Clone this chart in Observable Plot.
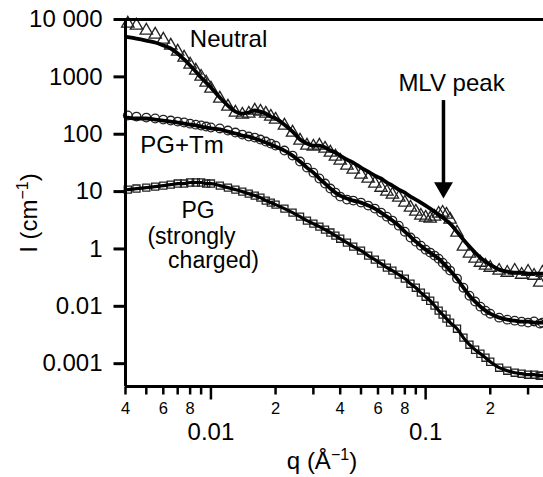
<!DOCTYPE html>
<html><head><meta charset="utf-8">
<script src="https://cdn.jsdelivr.net/npm/d3@7"></script>
<script src="https://cdn.jsdelivr.net/npm/@observablehq/plot@0.6"></script>
<style>body{margin:0;background:#fff} svg{display:block}</style>
</head><body><div id="chart"></div>
<script>
// q values (Å^-1)
const q = [0.0041,0.0045,0.005,0.0055,0.006,0.0065,0.007,0.0075,0.008,0.0085,
  0.009,0.0095,0.010,0.011,0.012,0.013,0.014,0.015,0.016,0.017,
  0.018,0.019,0.020,0.022,0.024,0.026,0.028,0.030,0.032,0.034,
  0.036,0.038,0.040,0.043,0.046,0.050,0.054,0.058,0.062,0.066,
  0.070,0.075,0.080,0.085,0.090,0.095,0.100,0.105,0.110,0.115,
  0.120,0.125,0.130,0.140,0.150,0.160,0.170,0.180,0.190,0.200,
  0.220,0.240,0.260,0.280,0.300,0.320,0.340,0.350];

// Neutral (triangles) data and fit
const neutralI = [8510,7860,6430,5480,4480,3520,2770,2170,1640,1290,
  1010,796,626,419,304,239,220,229,259,248,
  229,203,180,142,107,77.5,63.4,60.9,63.4,56.2,
  47.9,40.8,34.7,28.4,24.2,19.8,16.9,13.8,11.7,9.99,
  8.86,7.86,6.43,5.26,4.48,3.81,3.52,3.38,3.66,4.13,
  4.30,3.97,3.25,1.93,1.10,0.829,0.678,0.577,0.512,0.472,
  0.419,0.386,0.419,0.356,0.402,0.342,0.259,0.386];
const neutralFit = [4950,4660,4300,3970,3520,3120,2550,2010,1580,1240,
  973,796,651,436,316,248,229,239,259,248,
  229,203,188,147,111,80.7,68.7,63.4,63.4,58.5,
  51.9,47.9,42.4,36.1,32.0,26.2,22.3,19.0,16.9,14.4,
  12.7,10.8,9.60,8.18,7.25,6.43,5.70,5.05,4.48,3.97,
  3.52,3.12,2.76,2.00,1.45,1.10,0.863,0.706,0.601,0.533,
  0.436,0.402,0.386,0.386,0.371,0.371,0.371,0.371];

// PG+Tm (circles) data and fit
const pgTmI = [212,203,195,188,180,173,166,160,153,147,
  142,136,131,126,116,107,98.6,91.0,87.4,80.7,
  74.5,68.7,63.4,51.9,42.4,33.4,26.2,21.4,16.9,13.8,
  11.3,9.60,8.18,7.25,6.96,6.43,5.70,5.05,4.30,3.66,
  3.12,2.55,2.00,1.58,1.34,1.14,0.973,0.863,0.765,0.678,
  0.577,0.491,0.419,0.304,0.211,0.153,0.121,0.0986,0.0840,0.0744,
  0.0634,0.0585,0.0562,0.0540,0.0520,0.0545,0.0500,0.0519];
const pgTmFit = [195,188,188,180,173,166,160,153,147,142,
  136,131,126,121,111,103,94.8,91.0,84.0,77.5,
  71.5,66.0,60.9,51.9,42.4,33.4,26.2,21.4,16.9,13.8,
  11.3,9.60,8.51,7.55,6.96,6.43,5.70,5.05,4.30,3.66,
  3.12,2.55,2.00,1.64,1.34,1.14,0.973,0.863,0.765,0.678,
  0.577,0.491,0.419,0.304,0.211,0.153,0.121,0.0986,0.0840,0.0744,
  0.0634,0.0585,0.0562,0.0540,0.0540,0.0519,0.0519,0.0519];

// PG strongly charged (squares) data, fit follows the same points
const pgI = [10.8,11.3,11.7,12.2,12.7,13.2,13.8,13.8,14.4,14.4,
  14.4,13.8,13.8,12.7,11.7,10.8,9.99,9.22,8.51,7.86,
  6.96,6.43,5.93,5.05,4.30,3.66,3.12,2.76,2.45,2.17,
  1.93,1.71,1.51,1.29,1.10,0.935,0.765,0.651,0.554,0.472,
  0.419,0.356,0.304,0.248,0.211,0.173,0.147,0.125,0.103,0.0840,
  0.0715,0.0609,0.0519,0.0407,0.0284,0.0214,0.0175,0.0149,0.0127,0.0108,
  0.00851,0.00754,0.00696,0.00669,0.00642,0.00642,0.00617,0.00617];

// Axis ticks and labels
const yTicks = [10000, 1000, 100, 10, 1, 0.1, 0.01];
const yTickLabels = ["10 000", "1000", "100", "10", "1", "0.01", "0.001"];
const xMinorTicks = [0.004,0.005,0.006,0.007,0.008,0.009,0.02,0.03,0.04,0.05,0.06,0.07,0.08,0.09,0.2,0.3];
const xMinorLabels = ["4","","6","","8","","2","","4","","6","","8","","2",""];
const xMajorTicks = [0.01, 0.1];
const xMajorLabels = ["0.01", "0.1"];

const xMin = 0.004, xMax = 0.354, yMin = 0.004, yMax = 10000;
const rows = (arr) => q.map((qq, i) => ({q: qq, I: arr[i]}));
const lab = (ticks, labels) => (d) => labels[ticks.indexOf(d)] ?? "";
// tick-mark symbols (line segments drawn from the anchor point)
const tickDown = (len) => ({draw(ctx) { ctx.moveTo(0, 0); ctx.lineTo(0, len); }});
const tickLeft = (len) => ({draw(ctx) { ctx.moveTo(0, 0); ctx.lineTo(-len, 0); }});

const font = "'Liberation Sans', Arial, Helvetica, sans-serif";
const mk = {stroke: "#222", strokeWidth: 1.3, fill: "none"};
const chart = Plot.plot({
  width: 543, height: 477,
  marginLeft: 125, marginRight: 0, marginTop: 19, marginBottom: 91,
  x: {type: "log", domain: [xMin, xMax], axis: null},
  y: {type: "log", domain: [yMin, yMax], axis: null},
  style: {fontFamily: font, background: "#fff", color: "#000"},
  marks: [
    Plot.dot(rows(neutralI), {x: "q", y: "I", symbol: "triangle", r: 4.6, ...mk}),
    Plot.dot(rows(pgTmI), {x: "q", y: "I", symbol: "circle", r: 4.3, ...mk}),
    Plot.dot(rows(pgI), {x: "q", y: "I", symbol: "square", r: 4, ...mk}),
    Plot.line(rows(neutralFit), {x: "q", y: "I", stroke: "#000", strokeWidth: 3.8, curve: "monotone-x"}),
    Plot.line(rows(pgTmFit), {x: "q", y: "I", stroke: "#000", strokeWidth: 3.8, curve: "monotone-x"}),
    Plot.line(rows(pgI), {x: "q", y: "I", stroke: "#000", strokeWidth: 3.2, curve: "monotone-x"}),
    // frame lines
    Plot.ruleX([xMin], {stroke: "#000", strokeWidth: 3}),
    Plot.ruleY([yMin, yMax], {stroke: "#000", strokeWidth: 3}),
    // y ticks + labels
    Plot.dot(yTicks, {x: xMin, y: (d) => d, symbol: tickLeft(12), stroke: "#000", strokeWidth: 3, fill: "none"}),
    Plot.text(yTicks, {x: xMin, y: (d) => d, text: lab(yTicks, yTickLabels), textAnchor: "end", dx: -23, lineAnchor: "middle", fontSize: 24, fill: "#000"}),
    // x ticks + labels
    Plot.dot(xMinorTicks, {x: (d) => d, y: yMin, symbol: tickDown(8), stroke: "#000", strokeWidth: 2.5, fill: "none"}),
    Plot.dot(xMajorTicks, {x: (d) => d, y: yMin, symbol: tickDown(13), stroke: "#000", strokeWidth: 2.5, fill: "none"}),
    Plot.text(xMinorTicks, {x: (d) => d, y: yMin, text: lab(xMinorTicks, xMinorLabels), dy: 16, lineAnchor: "top", fontSize: 16.5, fill: "#000"}),
    Plot.text(xMajorTicks, {x: (d) => d, y: yMin, text: lab(xMajorTicks, xMajorLabels), dy: 36, lineAnchor: "top", fontSize: 24, fill: "#000"}),
    // annotations
    Plot.text(["Neutral"], {x: 0.01208, y: 4478, text: (d) => d, fontSize: 24, lineAnchor: "middle", textAnchor: "middle"}),
    Plot.text(["PG+Tm"], {x: 0.00733, y: 63.4, text: (d) => d, fontSize: 24, lineAnchor: "middle", textAnchor: "middle"}),
    Plot.text(["PG"], {x: 0.00871, y: 4.66, text: (d) => d, fontSize: 23, lineAnchor: "middle", textAnchor: "middle"}),
    Plot.text(["(strongly"], {x: 0.00812, y: 1.66, text: (d) => d, fontSize: 23, lineAnchor: "middle", textAnchor: "middle"}),
    Plot.text(["charged)"], {x: 0.01028, y: 0.633, text: (d) => d, fontSize: 23, lineAnchor: "middle", textAnchor: "middle"}),
    Plot.text(["MLV peak"], {x: 0.1320, y: 774, text: (d) => d, fontSize: 24, lineAnchor: "middle", textAnchor: "middle"}),
    Plot.ruleX([0.1211], {y1: 386, y2: 12.2, stroke: "#000", strokeWidth: 3.5}),
    Plot.dot([0.1211], {x: (d) => d, y: 11.7, symbol: "triangle", r: 7, rotate: 180, fill: "#000", stroke: "none"})
  ]
});

const svg = d3.select(chart);
// Axis titles with superscripts
const xt = svg.append("text").attr("x", 322).attr("y", 469).attr("text-anchor", "middle")
  .attr("font-size", 24).attr("font-family", font).attr("fill", "#000");
xt.append("tspan").text("q (Å");
xt.append("tspan").attr("dy", -9).attr("font-size", 16).text("−1");
xt.append("tspan").attr("dy", 9).text(")");
const yt = svg.append("text").attr("transform", "translate(37,213) rotate(-90)").attr("text-anchor", "middle")
  .attr("font-size", 24).attr("font-family", font).attr("fill", "#000");
yt.append("tspan").text("I (cm");
yt.append("tspan").attr("dy", -9).attr("font-size", 16).text("−1");
yt.append("tspan").attr("dy", 9).text(")");

document.getElementById("chart").append(chart);
</script>
</body></html>
